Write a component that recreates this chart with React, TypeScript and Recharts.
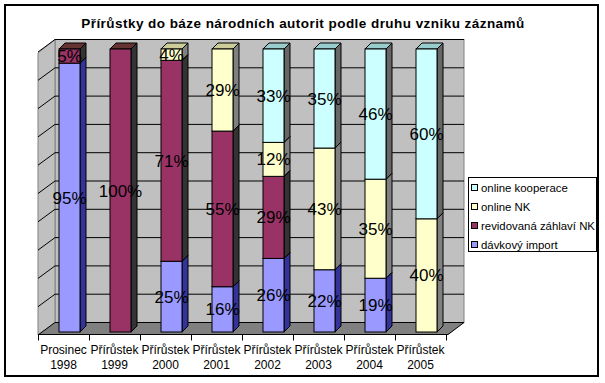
import { BarChart, Bar, XAxis, YAxis, CartesianGrid, LabelList } from 'recharts'

const catLine1 = ['Prosinec', 'Přírůstek', 'Přírůstek', 'Přírůstek', 'Přírůstek', 'Přírůstek', 'Přírůstek', 'Přírůstek']
const catLine2 = ['1998', '1999', '2000', '2001', '2002', '2003', '2004', '2005']
const davkovyImport = [95, 0, 25, 16, 26, 22, 19, 0]
const revidovana = [5, 100, 71, 55, 29, 0, 0, 0]
const onlineNK = [0, 0, 4, 29, 12, 43, 35, 40]
const onlineKooperace = [0, 0, 0, 0, 33, 35, 46, 60]
const yTicks = [10, 20, 30, 40, 50, 60, 70, 80, 90]

const SERIES = [
  { key: 'imp', name: 'dávkový import', front: '#9999FF', side: '#333399', top: '#6666CC' },
  { key: 'rev', name: 'revidovaná záhlaví NK', front: '#993366', side: '#333333', top: '#663333' },
  { key: 'nk', name: 'online NK', front: '#FFFFCC', side: '#808080', top: '#CCCC99' },
  { key: 'koop', name: 'online kooperace', front: '#CCFFFF', side: '#666666', top: '#99CCCC' },
]

const data = catLine1.map((c, i) => ({
  cat: `${c} ${catLine2[i]}`,
  imp: davkovyImport[i],
  rev: revidovana[i],
  nk: onlineNK[i],
  koop: onlineKooperace[i],
}))

const W = 605
const H = 383
const FONT = '"Liberation Sans", Arial, sans-serif'
// walls of the fake 3D box
const BACK = { left: 55, right: 464, top: 39.5, bottom: 322.5 }
const FRONT = { left: 38, top: 53, bottom: 335, right: 448 }
const DEPTH = 6

function makeShape(s: (typeof SERIES)[number]) {
  return (p: any) => {
    const { x, y, width: w, height: h } = p
    if (!h || h < 0.5) return <g />
    return (
      <g stroke="#000" strokeWidth={1}>
        <polygon points={`${x + w},${y} ${x + w + DEPTH},${y - DEPTH} ${x + w + DEPTH},${y + h - DEPTH} ${x + w},${y + h}`} fill={s.side} />
        <polygon points={`${x},${y} ${x + DEPTH},${y - DEPTH} ${x + w + DEPTH},${y - DEPTH} ${x + w},${y}`} fill={s.top} />
        <rect x={x} y={y} width={w} height={h} fill={s.front} />
      </g>
    )
  }
}

function gridLine(p: any) {
  const yb = p.y1 - 9.5
  const yf = p.y1 + 3
  return (
    <g key={p.key}>
      <line x1={BACK.left} x2={BACK.right} y1={yb} y2={yb} stroke="#000" />
      <line x1={FRONT.left} y1={yf} x2={BACK.left} y2={yb} stroke="#000" />
    </g>
  )
}

function CatTick(props: any) {
  const { x, y, index } = props
  const lx = x - 6
  const bx = x - 31
  const ay = y + 2.5
  return (
    <g>
      <line x1={bx} x2={bx} y1={ay} y2={ay + 6} stroke="#000" />
      {index === catLine1.length - 1 && <line x1={x + 20} x2={x + 20} y1={ay} y2={ay + 6} stroke="#000" />}
      <text textAnchor="middle" fontSize={12} fontFamily={FONT} fill="#000">
        <tspan x={lx} y={y + 21.7}>{catLine1[index]}</tspan>
        <tspan x={lx} y={y + 36.7}>{catLine2[index]}</tspan>
      </text>
    </g>
  )
}

const pct = (v: any) => (v ? `${v}%` : '')

export default function App() {
  return (
    <div style={{ position: 'fixed', left: 0, top: 0, width: W, height: H, background: '#fff', fontFamily: FONT }}>
      <svg width={W} height={H} style={{ position: 'absolute', left: 0, top: 0 }}>
        <rect x={5} y={5} width={593} height={371} fill="#fff" stroke="#000" strokeWidth={2} />
        <text x={303} y={28} textAnchor="middle" fontSize={13.5} letterSpacing={0.45} fontWeight="bold" fontFamily={FONT}>
          Přírůstky do báze národních autorit podle druhu vzniku záznamů
        </text>
        <rect x={BACK.left} y={BACK.top} width={BACK.right - BACK.left} height={BACK.bottom - BACK.top} fill="#C0C0C0" stroke="#808080" />
        <polygon points={`${FRONT.left},${FRONT.top} ${BACK.left},${BACK.top} ${BACK.left},${BACK.bottom} ${FRONT.left},${FRONT.bottom}`} fill="#C0C0C0" stroke="#808080" />
        <polygon points={`${BACK.left},${BACK.bottom} ${BACK.right},${BACK.bottom} ${FRONT.right},${FRONT.bottom} ${FRONT.left},${FRONT.bottom}`} fill="#808080" />
        <line x1={FRONT.left} x2={FRONT.right} y1={FRONT.bottom - 0.5} y2={FRONT.bottom - 0.5} stroke="#000" />
        <line x1={FRONT.right} y1={FRONT.bottom - 0.5} x2={BACK.right} y2={BACK.bottom} stroke="#000" />
      </svg>
      <div style={{ position: 'absolute', left: 0, top: 0 }}>
        <BarChart width={W} height={H} data={data} margin={{ top: 49, right: 153, bottom: 11, left: 44 }} barSize={21}>
          <CartesianGrid vertical={false} horizontal={gridLine} />
          <YAxis hide domain={[0, 100]} ticks={yTicks} />
          <XAxis dataKey="cat" height={40} axisLine={false} tickLine={false} tickSize={0} tickMargin={0} interval={0} tick={<CatTick />} />
          {SERIES.map((s) => (
            <Bar key={s.key} dataKey={s.key} name={s.name} stackId="a" isAnimationActive={false} shape={makeShape(s)}>
              <LabelList dataKey={s.key} position="center" formatter={pct} fill="#000" fontSize={17} fontFamily={FONT} />
            </Bar>
          ))}
        </BarChart>
      </div>
      <div style={{ position: 'absolute', left: 468, top: 177, width: 127, height: 73, border: '1px solid #000', background: '#fff' }}>
        {[...SERIES].reverse().map((s, i) => (
          <div key={s.key} style={{ position: 'absolute', left: 2, top: 2 + 19 * i, height: 15, display: 'flex', alignItems: 'center', fontSize: 11.4, whiteSpace: 'nowrap' }}>
            <span style={{ width: 5, height: 5, border: '1px solid #000', background: s.front, marginRight: 3 }} />
            <span>{s.name}</span>
          </div>
        ))}
      </div>
    </div>
  )
}
